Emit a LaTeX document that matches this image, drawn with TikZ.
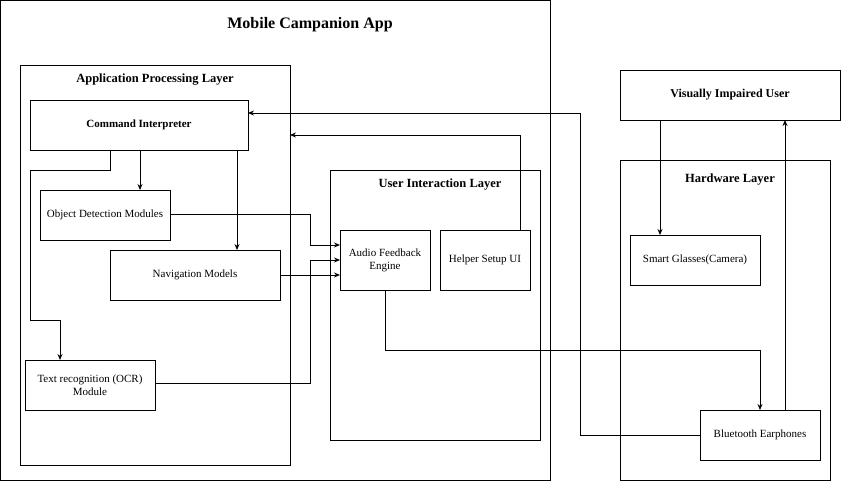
\documentclass[tikz,border=0pt]{standalone}
\usepackage{fontspec}
\setmainfont{Liberation Serif}
\usetikzlibrary{arrows.meta}
\begin{document}
\begin{tikzpicture}[x=1pt,y=-1pt,
  box/.style={draw,rectangle,line width=0.8pt},
  lbl/.style={font=\fontsize{11}{13}\selectfont,align=center},
  ttl/.style={font=\bfseries\fontsize{12.5}{15}\selectfont},
  arr/.style={draw,line width=0.8pt,-{Stealth[length=6pt,width=5pt]}}]
\useasboundingbox (0,0) rectangle (841,481);
% containers
\draw[box] (0.5,0.5) rectangle (550,480);
\node[ttl,font=\bfseries\fontsize{16}{19}\selectfont] (tmain) at (310,25) {Mobile Campanion App};
\draw[box] (20,65) rectangle (290,465);
\node[ttl] (tapp) at (155,80) {Application Processing Layer};
\draw[box] (330,170) rectangle (540,440);
\node[ttl] (tui) at (440,185) {User Interaction Layer};
\draw[box] (620,160) rectangle (830,480);
\node[ttl] (thw) at (730,180) {Hardware Layer};
% nodes
\draw[box] (30,100) rectangle (248,150);
\node[lbl,font=\bfseries\fontsize{11}{13}\selectfont] (ci) at (139,125) {Command Interpreter};
\coordinate (ciB) at (139,150);
\draw[box] (40,190) rectangle (170,240);
\node[lbl] (odm) at (105,215) {Object Detection Modules};
\draw[box] (110,250) rectangle (280,300);
\node[lbl] (nm) at (195,275) {Navigation Models};
\draw[box] (25,360) rectangle (155,410);
\node[lbl] (ocr) at (90,385) {Text recognition (OCR)\\Module};
\draw[box] (340,230) rectangle (430,290);
\node[lbl] (afe) at (385,260) {Audio Feedback\\Engine};
\draw[box] (440,230) rectangle (530,290);
\node[lbl] (hsu) at (485,260) {Helper Setup UI};
\draw[box] (620,70) rectangle (840,120);
\node[lbl,font=\bfseries\fontsize{12}{14}\selectfont] (viu) at (730,95) {Visually Impaired User};
\draw[box] (630,235) rectangle (760,285);
\node[lbl] (sg) at (695,260) {Smart Glasses(Camera)};
\draw[box] (700,410) rectangle (820,460);
\node[lbl] (be) at (760,435) {Bluetooth Earphones};
% connectors
\draw[arr] (140,150) -- (140,190);
\draw[arr] (237,150) -- (237,250);
\draw[arr] (110,150) -- (110,170) -- (30,170) -- (30,320) -- (60,320) -- (60,360);
\draw[arr] (170,214) -- (310,214) -- (310,245) -- (340,245);
\draw[arr] (280,275) -- (340,275);
\draw[arr] (155,383) -- (310,383) -- (310,260) -- (340,260);
\draw[arr] (520,230) -- (520,135) -- (290,135);
\draw[arr] (385,290) -- (385,350) -- (760,350) -- (760,410);
\draw[arr] (700,435) -- (580,435) -- (580,113) -- (248,113);
\draw[arr] (785,410) -- (785,120);
\draw[arr] (660,120) -- (660,235);
\end{tikzpicture}
\end{document}
